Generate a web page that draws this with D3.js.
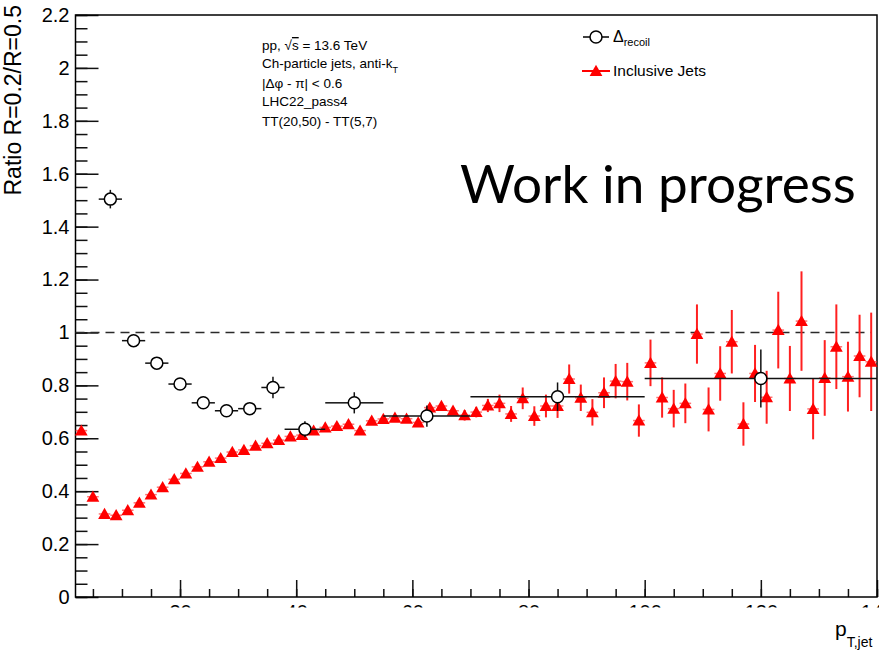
<!DOCTYPE html>
<html>
<meta charset="utf-8">
<style>
body { margin: 0; background: #fff; }
svg { display: block; }
.axis text { font-family: "Liberation Sans", Arial, sans-serif; font-size: 20px; fill: #000; }
.axis line { stroke: #111; stroke-width: 1.5px; }
.axis path { display: none; }
.lbl { font-family: "Liberation Sans", Arial, sans-serif; fill: #000; }
</style>
<body>
<script src="https://d3js.org/d3.v7.min.js"></script>
<script>
// Inclusive jets: bin centres (width 2), ratio and stat. error
var incX = [3,5,7,9,11,13,15,17,19,21,23,25,27,29,31,33,35,37,39,41,43,45,47,49,51,53,55,57,59,61,63,65,67,69,71,73,75,77,79,81,83,85,87,89,91,93,95,97,99,101,103,105,107,109,111,113,115,117,119,121,123,125,127,129,131,133,135,137,139];
var incY = [0.629,0.379,0.314,0.309,0.328,0.356,0.387,0.415,0.445,0.467,0.492,0.511,0.525,0.548,0.556,0.572,0.581,0.593,0.607,0.612,
	0.629,0.641,0.646,0.653,0.629,0.666,0.673,0.678,0.674,0.660,0.716,0.722,0.704,0.687,0.699,0.724,0.732,0.692,0.751,0.684,
	0.722,0.722,0.824,0.753,0.698,0.772,0.816,0.814,0.667,0.885,0.754,0.712,0.732,0.994,0.709,0.845,0.965,0.654,0.845,0.755,
	1.009,0.826,1.043,0.711,0.828,0.946,0.833,0.911,0.889];
var incErr = [0.004,0.004,0.004,0.004,0.004,0.004,0.004,0.004,0.004,0.004,0.004,0.004,0.004,0.004,0.004,0.004,0.004,0.004,0.004,0.004,
	0.008,0.008,0.008,0.008,0.008,0.008,0.008,0.01,0.01,0.01,0.012,0.012,0.012,0.02,0.02,0.025,0.033,0.03,0.041,0.037,
	0.043,0.045,0.055,0.05,0.05,0.058,0.065,0.071,0.061,0.088,0.076,0.071,0.075,0.112,0.083,0.103,0.12,0.082,0.108,0.10,
	0.145,0.123,0.188,0.115,0.143,0.16,0.132,0.156,0.186];

// Delta_recoil: variable bins
var recEdges = [6,10,14,18,22,26,30,34,38,45,55,70,100,140];
var recY = [1.504,0.969,0.884,0.805,0.734,0.704,0.712,0.792,0.634,0.734,0.684,0.757,0.826];
var recErr = [0.035,0.01,0.012,0.012,0.012,0.012,0.022,0.041,0.03,0.04,0.04,0.054,0.11];

var yMajor = [0,0.2,0.4,0.6,0.8,1,1.2,1.4,1.6,1.8,2,2.2];
var xMajor = [20,40,60,80,100,120,140];

var infoLines = ["pp, ", "Ch-particle jets, anti-k", "|\u0394\u03c6 - \u03c0| < 0.6", "LHC22_pass4", "TT(20,50) - TT(5,7)"];

var W = 879, H = 654;
var x = d3.scaleLinear().domain([2, 140]).range([75.5, 877]);
var y = d3.scaleLinear().domain([0, 2.2]).range([597, 15]);

var svg = d3.select("body").append("svg")
	.attr("width", W)
	.attr("height", H);

svg.append("defs").append("clipPath")
	.attr("id", "cut")
	.append("rect")
	.attr("x", 0).attr("y", 0)
	.attr("width", W).attr("height", 607.5);

// y axis, ticks pointing inside
svg.append("g")
	.attr("class", "axis")
	.attr("transform", "translate(" + x(2) + ",0)")
	.call(d3.axisLeft(y).ticks(44).tickSizeInner(-12).tickSizeOuter(0).tickFormat(""));
svg.append("g")
	.attr("class", "axis")
	.attr("transform", "translate(" + x(2) + ",0)")
	.call(d3.axisLeft(y).tickValues(yMajor).tickSizeInner(-23).tickSizeOuter(0).tickPadding(6)
		.tickFormat(function(d) { return String(+d.toFixed(1)); }));

// x axis, labels cut off by the page bottom crop
var xg = svg.append("g").attr("clip-path", "url(#cut)");
xg.append("g")
	.attr("class", "axis")
	.attr("transform", "translate(0," + y(0) + ")")
	.call(d3.axisBottom(x).ticks(28).tickSizeInner(-8).tickSizeOuter(0).tickFormat(""));
xg.append("g")
	.attr("class", "axis")
	.attr("transform", "translate(0," + y(0) + ")")
	.call(d3.axisBottom(x).tickValues(xMajor).tickSizeInner(-17).tickSizeOuter(0).tickPadding(8));

// frame
svg.append("rect")
	.attr("x", x(2)).attr("y", y(2.2))
	.attr("width", x(140) - x(2)).attr("height", y(0) - y(2.2))
	.attr("fill", "none")
	.attr("stroke", "#000")
	.attr("stroke-width", 1.5);

// unity line
svg.append("line")
	.attr("x1", x(2)).attr("x2", x(140) - 6)
	.attr("y1", y(1)).attr("y2", y(1))
	.attr("stroke", "#2a2a2a")
	.attr("stroke-width", 1.6)
	.attr("stroke-dasharray", "9,6");

// inclusive jets
var inc = incX.map(function(v, i) { return {x: v, y: incY[i], e: incErr[i]}; });
var incG = svg.append("g");
incG.selectAll(".hbar").data(inc).enter().append("line")
	.attr("x1", function(d) { return x(d.x - 1); })
	.attr("x2", function(d) { return x(d.x + 1); })
	.attr("y1", function(d) { return y(d.y); })
	.attr("y2", function(d) { return y(d.y); })
	.attr("stroke", "#ff3b3b")
	.attr("stroke-opacity", 0.7)
	.attr("stroke-width", 1.5);
incG.selectAll(".vbar").data(inc).enter().append("line")
	.attr("x1", function(d) { return x(d.x); })
	.attr("x2", function(d) { return x(d.x); })
	.attr("y1", function(d) { return y(d.y + d.e); })
	.attr("y2", function(d) { return y(d.y - d.e); })
	.attr("stroke", "#ff2020")
	.attr("stroke-width", 2);
var tri = "M0,-6.2L6.4,5L-6.4,5Z";
incG.selectAll(".tri").data(inc).enter().append("path")
	.attr("d", tri)
	.attr("transform", function(d) { return "translate(" + x(d.x) + "," + y(d.y) + ")"; })
	.attr("fill", "#ff0000");

// delta recoil
var R = 6;
var rec = recY.map(function(v, i) {
	return {lo: recEdges[i], hi: recEdges[i + 1], y: v, e: recErr[i]};
});
var recG = svg.append("g");
rec.forEach(function(d) {
	var cx = x((d.lo + d.hi) / 2), cy = y(d.y);
	recG.append("line")
		.attr("x1", x(d.lo)).attr("x2", cx - R)
		.attr("y1", cy).attr("y2", cy);
	recG.append("line")
		.attr("x1", cx + R).attr("x2", x(d.hi))
		.attr("y1", cy).attr("y2", cy);
	if (y(d.y - d.e) - cy > R) {
		recG.append("line")
			.attr("x1", cx).attr("x2", cx)
			.attr("y1", y(d.y + d.e)).attr("y2", cy - R);
		recG.append("line")
			.attr("x1", cx).attr("x2", cx)
			.attr("y1", cy + R).attr("y2", y(d.y - d.e));
	}
	recG.append("circle")
		.attr("cx", cx).attr("cy", cy).attr("r", R)
		.attr("fill", "#fff")
		.attr("stroke", "#000")
		.attr("stroke-width", 1.5);
});
recG.selectAll("line")
	.attr("stroke", "#111")
	.attr("stroke-width", 1.5);

// axis titles
svg.append("text")
	.attr("class", "lbl")
	.attr("transform", "translate(21,5) rotate(-90)")
	.attr("text-anchor", "end")
	.attr("font-size", "23px")
	.text("Ratio R=0.2/R=0.5");

var pt = svg.append("text")
	.attr("class", "lbl")
	.attr("x", 835).attr("y", 636)
	.attr("font-size", "21px")
	.text("p");
pt.append("tspan")
	.attr("font-size", "14px")
	.attr("dy", 11)
	.text("T,jet");

// info text
var info = svg.append("g").attr("class", "lbl").attr("font-size", "13.5px");
var t1 = info.append("text").attr("class", "lbl").attr("x", 262).attr("y", 50).text(infoLines[0]);
t1.append("tspan").text("\u221a");
t1.append("tspan").style("text-decoration", "overline").text("s");
t1.append("tspan").text(" = 13.6 TeV");
var t2 = info.append("text").attr("class", "lbl").attr("x", 262).attr("y", 68).text(infoLines[1]);
t2.append("tspan").attr("font-size", "9px").attr("dy", 5).text("T");
info.append("text").attr("class", "lbl").attr("x", 262).attr("y", 88).text(infoLines[2]);
info.append("text").attr("class", "lbl").attr("x", 262).attr("y", 106).text(infoLines[3]);
info.append("text").attr("class", "lbl").attr("x", 262).attr("y", 126).text(infoLines[4]);

// legend
var lg = svg.append("g");
lg.append("line")
	.attr("x1", 583).attr("x2", 609).attr("y1", 37).attr("y2", 37)
	.attr("stroke", "#000").attr("stroke-width", 1.5);
lg.append("circle")
	.attr("cx", 596).attr("cy", 37).attr("r", R)
	.attr("fill", "#fff").attr("stroke", "#000").attr("stroke-width", 1.5);
var l1 = lg.append("text").attr("class", "lbl").attr("x", 613).attr("y", 42)
	.attr("font-size", "16px").text("\u0394");
l1.append("tspan").attr("font-size", "11px").attr("dy", 4).text("recoil");
lg.append("line")
	.attr("x1", 582).attr("x2", 610).attr("y1", 71).attr("y2", 71)
	.attr("stroke", "#ff0000").attr("stroke-width", 2);
lg.append("path")
	.attr("d", tri)
	.attr("transform", "translate(596,71)")
	.attr("fill", "#ff0000");
lg.append("text").attr("class", "lbl").attr("x", 613).attr("y", 76)
	.attr("font-size", "15.5px").text("Inclusive Jets");

// watermark
var wip = svg.append("text")
	.attr("x", 460).attr("y", 203)
	.attr("font-family", "Lato, 'Open Sans', sans-serif")
	.attr("font-size", "52px")
	.attr("fill", "#000")
	.text("Work in progress");
var wl = wip.node().getComputedTextLength();
wip.attr("font-size", (52 * 396 / wl).toFixed(1) + "px");
</script>
</body>
</html>
